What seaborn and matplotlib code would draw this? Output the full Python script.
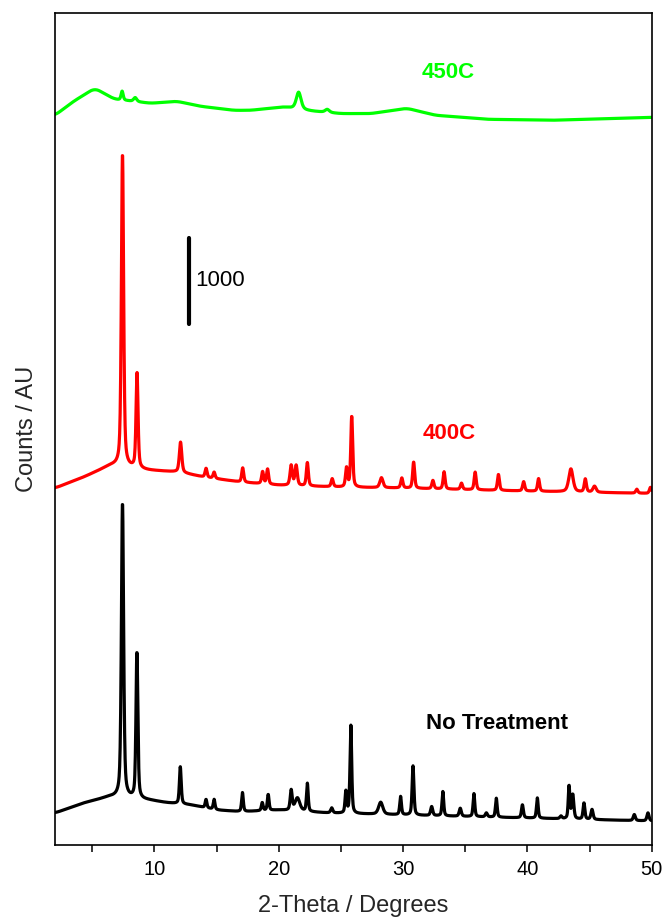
import numpy as np
import pandas as pd
import matplotlib
matplotlib.use("Agg")
import matplotlib.pyplot as plt
import seaborn as sns
from matplotlib.ticker import MultipleLocator

# ---------------- data ----------------
sample_names = ["No Treatment", "400C", "450C"]
sample_colors = ["#000000", "#FF0000", "#00FF00"]

# background control points (2-theta, displayed counts incl. stacking offset)
black_bg_x = [2, 4.3, 6.4, 9.5, 11, 13, 15, 17, 20, 24, 30, 40, 50]
black_bg_y = [371, 487, 560, 522, 490, 464, 406, 386, 406, 371, 348, 313, 278]
red_bg_x = [2, 4.3, 6.5, 9.5, 12, 14, 17, 20, 25, 30, 40, 50]
red_bg_y = [4138, 4265, 4404, 4346, 4323, 4265, 4207, 4172, 4149, 4138, 4103, 4076]
green_bg_x = [2, 3.5, 5.2, 6.8, 9.7, 11.8, 13.7, 16.4, 17.7, 20.4, 22.6, 25, 27.4, 30.3, 32.6, 36.8, 42, 50]
green_bg_y = [8461, 8623, 8774, 8646, 8600, 8623, 8565, 8518, 8518, 8557, 8510, 8480, 8480, 8542, 8461, 8414, 8403, 8437]

# Bragg peaks: position (deg), height (counts), FWHM (deg)
black_peak_pos = [7.43, 8.59, 12.08, 14.15, 14.8, 17.08, 18.67, 19.15, 21.0, 21.5, 22.3, 24.26,
                  25.4, 25.8, 28.2, 29.8, 30.8, 32.3, 33.2, 34.6, 35.7, 36.7, 37.5, 39.6, 40.8,
                  42.7, 43.35, 43.65, 44.55, 45.2, 48.6, 49.7]
black_peak_height = [3420, 1700, 430, 97, 116, 220, 93, 185, 232, 150, 325, 58,
                     250, 1020, 140, 212, 571, 104, 282, 93, 267, 46, 220, 151, 235,
                     30, 380, 280, 189, 116, 70, 93]
black_peak_fwhm = [0.21, 0.18, 0.17, 0.16, 0.16, 0.16, 0.16, 0.16, 0.19, 0.45, 0.16, 0.2,
                   0.16, 0.16, 0.4, 0.16, 0.17, 0.2, 0.16, 0.2, 0.16, 0.2, 0.16, 0.18, 0.16,
                   0.2, 0.15, 0.2, 0.17, 0.2, 0.2, 0.2]

red_peak_pos = [7.43, 8.6, 12.1, 14.15, 14.8, 17.1, 18.7, 19.1, 21.0, 21.4, 22.3, 24.3,
                25.45, 25.87, 28.26, 29.9, 30.85, 32.4, 33.3, 34.7, 35.8, 37.67, 39.7, 40.9,
                43.5, 44.66, 45.4, 48.8, 49.9]
red_peak_height = [3630, 1100, 351, 104, 73, 166, 139, 174, 232, 232, 270, 93,
                   220, 823, 116, 116, 305, 96, 200, 73, 205, 185, 108, 147,
                   267, 151, 70, 46, 70]
red_peak_fwhm = [0.21, 0.19, 0.23, 0.19, 0.19, 0.19, 0.19, 0.19, 0.22, 0.22, 0.19, 0.2,
                 0.19, 0.18, 0.3, 0.2, 0.19, 0.2, 0.19, 0.2, 0.19, 0.19, 0.2, 0.19,
                 0.4, 0.2, 0.3, 0.2, 0.2]

green_peak_pos = [7.4, 8.45, 21.6, 23.9]
green_peak_height = [104, 46, 197, 35]
green_peak_fwhm = [0.2, 0.3, 0.45, 0.4]

scale_bar_x = 12.8
scale_bar_y = [6040, 7040]
scale_bar_label = "1000"

x_label = "2-Theta / Degrees"
y_label = "Counts / AU"

# ---------------- build traces ----------------
x = np.arange(2.0, 50.0001, 0.02)


def smooth(v, n=41):
    pad = n // 2
    vp = np.concatenate([np.full(pad, v[0]), v, np.full(pad, v[-1])])
    return np.convolve(vp, np.ones(n) / n, mode="valid")


def pattern(bg_x, bg_y, pos, hgt, fwhm, eta=0.5):
    y = smooth(np.interp(x, bg_x, bg_y))
    for p, a, f in zip(pos, hgt, fwhm):
        d = (x - p) / f
        g = np.exp(-4 * np.log(2) * d ** 2)
        lor = 1.0 / (1 + 4 * d ** 2)
        y = y + a * (eta * lor + (1 - eta) * g)
    return y


traces = [
    pattern(black_bg_x, black_bg_y, black_peak_pos, black_peak_height, black_peak_fwhm),
    pattern(red_bg_x, red_bg_y, red_peak_pos, red_peak_height, red_peak_fwhm),
    pattern(green_bg_x, green_bg_y, green_peak_pos, green_peak_height, green_peak_fwhm),
]
df = pd.concat([pd.DataFrame({"theta": x, "counts": t, "sample": n})
                for t, n in zip(traces, sample_names)], ignore_index=True)

# ---------------- plot ----------------
sns.set_style("ticks")
plt.rcParams["font.family"] = ["Liberation Sans", "DejaVu Sans"]

fig = plt.figure(figsize=(6.64, 9.21), dpi=100)
ax = fig.add_axes([55 / 664, 1 - 845 / 921, (651.7 - 55) / 664, (845 - 12.7) / 921])

sns.lineplot(data=df, x="theta", y="counts", hue="sample", hue_order=sample_names,
             palette=dict(zip(sample_names, sample_colors)), estimator=None,
             sort=False, legend=False, lw=2.3, ax=ax)

ax.set_xlim(2, 50)
ax.set_ylim(0, 9650)
ax.set_yticks([])
ax.xaxis.set_major_locator(MultipleLocator(10))
ax.xaxis.set_minor_locator(MultipleLocator(5))
ax.tick_params(axis="x", which="both", direction="out", length=5, width=1.1,
               labelsize=14.5, colors="black", pad=6)
for s in ax.spines.values():
    s.set_visible(True)
    s.set_linewidth(1.2)
    s.set_color("black")

ax.set_xlabel(x_label, fontsize=17, labelpad=11)
ax.set_ylabel(y_label, fontsize=17, labelpad=12)

# sample labels
ax.text(33.64, 8959, sample_names[2], color=sample_colors[2], fontsize=16,
        fontweight="bold", ha="center", va="center")
ax.text(33.7, 4771, sample_names[1], color=sample_colors[1], fontsize=16,
        fontweight="bold", ha="center", va="center")
ax.text(37.56, 1410, sample_names[0], color=sample_colors[0], fontsize=16,
        fontweight="bold", ha="center", va="center")

# scale bar
ax.plot([scale_bar_x, scale_bar_x], scale_bar_y, color="black", lw=3, solid_capstyle="round")
ax.text(scale_bar_x + 0.5, np.mean(scale_bar_y), scale_bar_label, fontsize=16,
        ha="left", va="center", color="black")

fig.savefig("out.png", dpi=100, facecolor="white")
